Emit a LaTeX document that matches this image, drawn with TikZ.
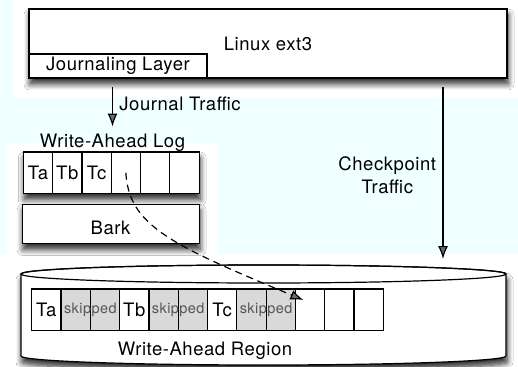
\documentclass[tikz,border=0pt]{standalone}
\usepackage{fontspec}
\setmainfont[LetterSpace=3]{TeX Gyre Heros}
\usetikzlibrary{arrows.meta,positioning,shadows.blur}
\definecolor{pale}{RGB}{240,255,255}
\definecolor{skipgray}{RGB}{217,217,217}
\definecolor{skiptext}{RGB}{85,85,85}

\begin{document}
\begin{tikzpicture}[x=1pt, y=-1pt, >={Latex[length=13pt,width=10pt]}, line width=1.2pt, font=\fontsize{18.5}{23}\selectfont]
	\tikzset{block/.style={draw, rectangle, fill=white, align=center, inner sep=0pt, outer sep=0pt},
		shadowed/.style={blur shadow={shadow xshift=1pt, shadow yshift=-6pt, shadow blur radius=6pt, shadow blur steps=8, shadow opacity=85}},
		cell/.style={block, minimum width=29.3pt, minimum height=41.5pt},
		skip/.style={cell, fill=skipgray},
		skiplabel/.style={text=skiptext, font=\fontsize{14.5}{18}\selectfont, inner sep=0pt},
		dashline/.style={dash pattern=on 7pt off 5pt}
	}

	% background
	\fill[pale] (0,0) rectangle (518,366);
	\fill[white] (13,0) rectangle (518,98);
	\fill[white] (7,143) rectangle (218,254);
	\fill[white] (0,254) rectangle (518,366);
	\useasboundingbox (0,0) rectangle (518,366);

	\node[block, shadowed, minimum width=478pt, minimum height=69pt] (ext3) at (268,43.5) {Linux ext3};
	\node[block, anchor=south west, minimum width=178pt, minimum height=24pt] (journaling) at (ext3.south west) {Journaling Layer};

	% write-ahead log
	\node[anchor=base] (log) at (112.5,147) {Write-Ahead Log};
	\node[block, shadowed, anchor=north west, minimum width=175.8pt, minimum height=41.5pt] (logrow) at (23.3,152) {};
	\node[cell, anchor=north west] (log1) at (logrow.north west) {Ta};
	\node[cell, right=0pt of log1] (log2) {Tb};
	\node[cell, right=0pt of log2] (log3) {Tc};
	\foreach \i [count=\j from 3] in {4,5,6}
		\node[cell, right=0pt of log\j] (log\i) {};
	\node[block, shadowed, below=11pt of logrow.south east, anchor=north east, minimum width=177pt, minimum height=39pt, text height=22pt] (bark) {Bark};

	% write-ahead region (disk)
	\draw[fill=white, shadowed] (21,274) -- (21,356) arc[start angle=180, end angle=0, x radius=242.5, y radius=9]
		-- (506,274) arc[start angle=0, end angle=-180, x radius=242.5, y radius=9] -- cycle;
	\draw (263.5,274) ellipse[x radius=242.5, y radius=9];
	\coordinate (disk) at (443,266);

	\node[cell, anchor=north west] (reg1) at (31.7,289) {Ta};
	\node[skip, right=0pt of reg1] (reg2) {};
	\node[skip, right=0pt of reg2] (reg3) {};
	\node[cell, right=0pt of reg3] (reg4) {Tb};
	\node[skip, right=0pt of reg4] (reg5) {};
	\node[skip, right=0pt of reg5] (reg6) {};
	\node[cell, right=0pt of reg6] (reg7) {Tc};
	\node[skip, right=0pt of reg7] (reg8) {};
	\node[skip, right=0pt of reg8] (reg9) {};
	\foreach \i [count=\j from 9] in {10,11,12}
		\node[cell, right=0pt of reg\j] (reg\i) {};
	\foreach \i in {2,5,8}
		\node[skiplabel] (skip\i) at (reg\i.east) {skipped};
	\node[anchor=base] (region) at (205,355) {Write-Ahead Region};

	% traffic
	\draw[->, shorten <=9pt, shorten >=3pt] (journaling.south -| log) -- (log.north)
		node[midway, right=3pt] (journaltraffic) {Journal Traffic};
	\draw[->, shorten <=9pt, shorten >=7pt] (ext3.south -| disk) -- (disk)
		node[midway, left=3pt, yshift=-3pt, align=center] (checkpoint) {Checkpoint\\Traffic};
	\draw[->, dashline] (log4.center) .. controls +(3,53) and +(-132,-55) .. ([xshift=8pt, yshift=-11pt]reg10.north west);

\end{tikzpicture}
\end{document}
